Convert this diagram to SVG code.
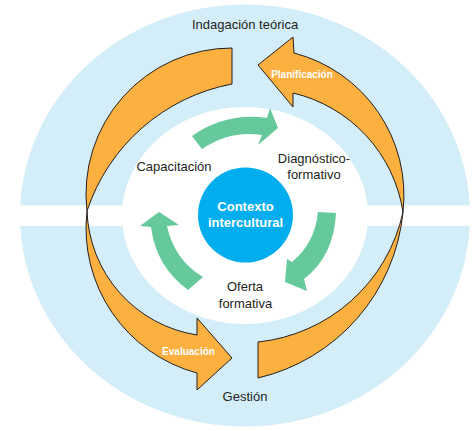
<svg xmlns="http://www.w3.org/2000/svg" width="473" height="431" viewBox="0 0 473 431">
<style>
.bg{fill:#D4EEF9}
.wh{fill:#FFFFFF}
.core{fill:#00AEEF}
.or{fill:#FBB040;stroke:#231F20;stroke-width:1;stroke-linejoin:miter}
.gr{fill:#66C99B}
.t{font-family:"Liberation Sans",Arial,sans-serif;font-size:13px;fill:#231F20;text-anchor:middle}
.tw{font-family:"Liberation Sans",Arial,sans-serif;font-size:13px;font-weight:bold;fill:#FFFFFF;text-anchor:middle}
.ts{font-family:"Liberation Sans",Arial,sans-serif;font-size:10px;font-weight:bold;fill:#FFFFFF;text-anchor:middle}
</style>
<g id="background">
<ellipse class="bg" cx="245" cy="215.5" rx="225" ry="211"/>
<rect class="wh" x="0" y="205.5" width="473" height="20.5"/>
<ellipse class="wh" cx="245" cy="215.5" rx="123" ry="108.5"/>
</g>
<g id="connectors">
<path id="arrow-indagacion" class="or" d="M232,48 A146,146 0 0 0 87,211 A190,190 0 0 1 232,84 Z"/>
<path id="arrow-evaluacion" class="or" d="M87,211 A150,150 0 0 0 197,373 L197,390 L232,358 L197,318 L197,335 A130,130 0 0 1 87,211 Z"/>
<path id="arrow-planificacion" class="or" d="M258,65 L293,37 L294,53 A147,147 0 0 1 403,212 A145,145 0 0 0 293,93 L293,107 Z"/>
<path id="arrow-gestion" class="or" d="M403,212 A189,189 0 0 1 258,378 L258,342 A166,166 0 0 0 403,212 Z"/>
<path id="green-top" class="gr" d="M202,149 Q230,130 262,135 L258,145 L278,128 L270,108 L267,118 Q226.5,112 192,136 Z"/>
<path id="green-right" class="gr" d="M318,212 Q315,243 292,262 L287,259 L285,282 L307,291 L304,279 Q334,256 336,213 Z"/>
<path id="green-left" class="gr" d="M188,290 Q156,266.5 151,227 L140,226 L159,212 L179,225 L167,226 Q174.4,260 203,277 Z"/>
</g>
<g id="node-contexto">
<circle class="core" cx="245.5" cy="215" r="47.5"/>
<text class="tw" x="245.5" y="211">Contexto</text>
<text class="tw" x="245.5" y="227">intercultural</text>
</g>
<g id="node-indagacion">
<text class="t" x="245" y="29">Indagación teórica</text>
</g>
<g id="node-gestion">
<text class="t" x="245" y="401">Gestión</text>
</g>
<g id="node-capacitacion">
<text class="t" x="174" y="171">Capacitación</text>
</g>
<g id="node-diagnostico">
<text class="t" x="314" y="162.5">Diagnóstico-</text>
<text class="t" x="314" y="179">formativo</text>
</g>
<g id="node-oferta">
<text class="t" x="245" y="291">Oferta</text>
<text class="t" x="245.5" y="307.5">formativa</text>
</g>
<g id="node-planificacion">
<text class="ts" x="302" y="78">Planificación</text>
</g>
<g id="node-evaluacion">
<text class="ts" x="188.5" y="355">Evaluación</text>
</g>
</svg>
